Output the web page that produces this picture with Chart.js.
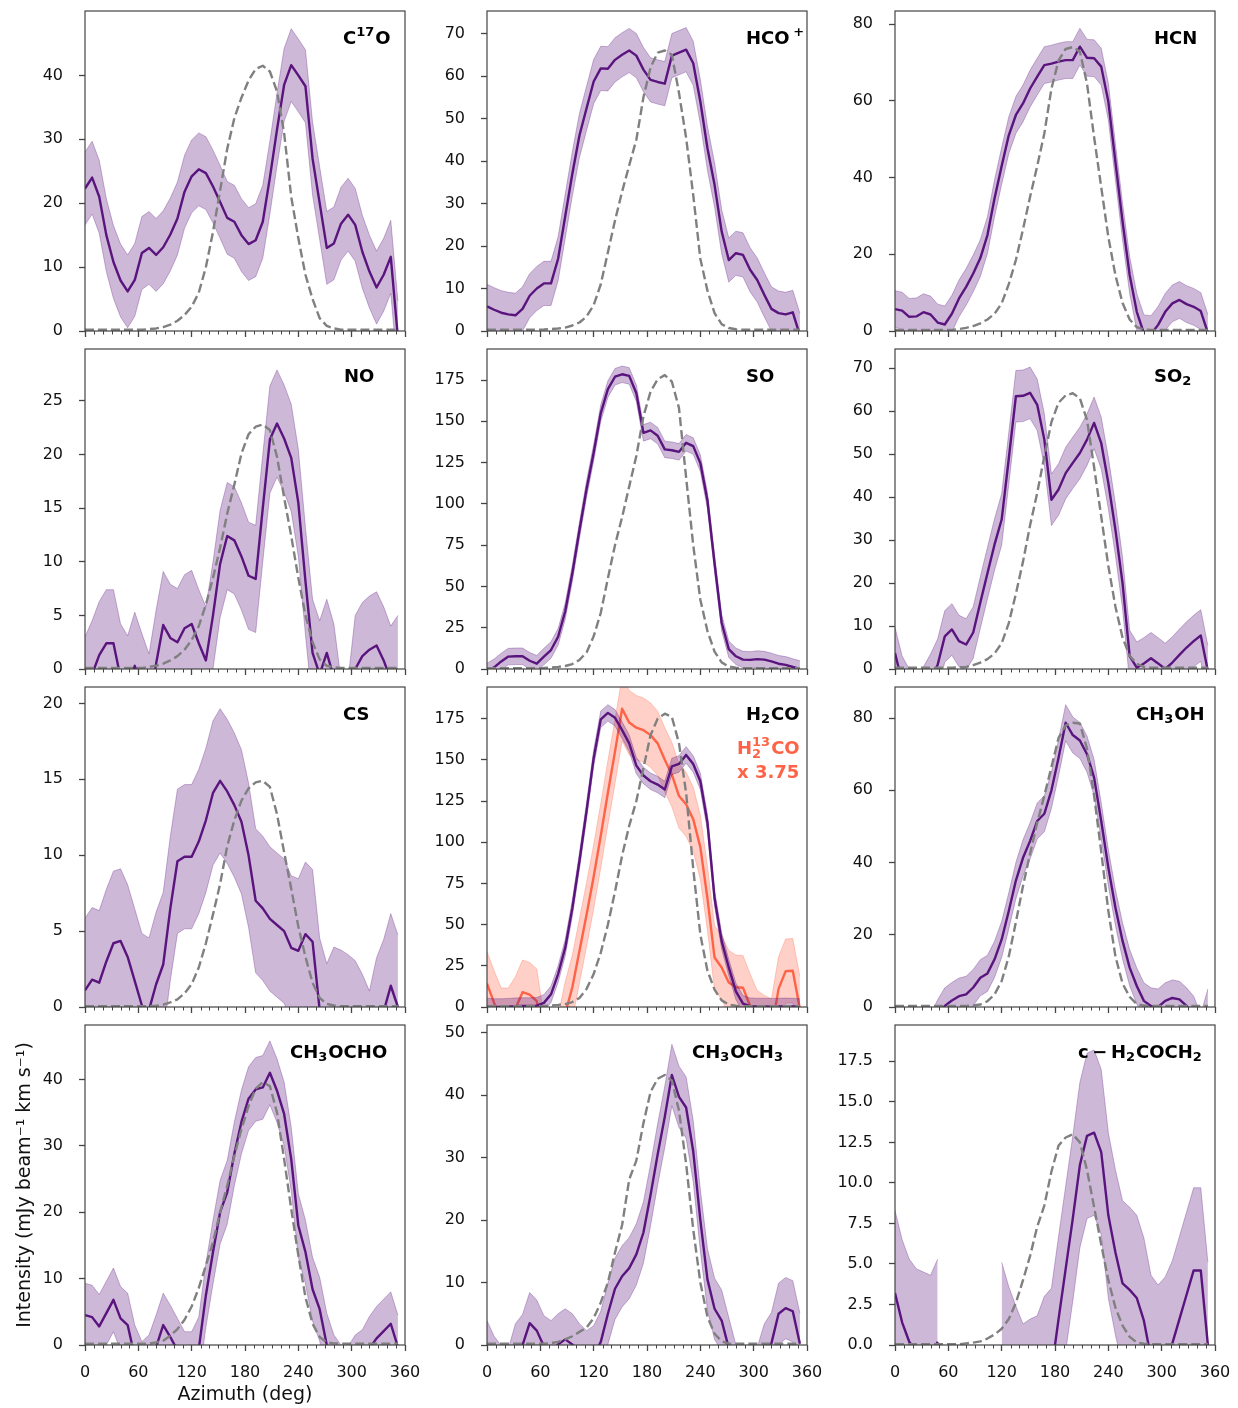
<!DOCTYPE html>
<html>
<head>
<meta charset="utf-8">
<script src="https://cdn.jsdelivr.net/npm/chart.js@4.4.1/dist/chart.umd.min.js"></script>
<style>
  body { margin: 0; background: #fff; }
  #page { position: relative; width: 1238px; height: 1408px; overflow: hidden; background: #fff; }
  #page canvas { position: absolute; }
</style>
</head>
<body>
<div id="page"></div>
<script>
// azimuth samples (deg)
var azimuth = [0, 8, 16, 24, 32, 40, 48, 56, 64, 72, 80, 88, 96, 104, 112, 120, 128, 136, 144, 152,
  160, 168, 176, 184, 192, 200, 208, 216, 224, 232, 240, 248, 256, 264, 272, 280, 288, 296, 304, 312,
  320, 328, 336, 344, 352];
var azimuthTicks = [0, 60, 120, 180, 240, 300, 360];
var azimuthMinor = [10, 20, 30, 40, 50, 70, 80, 90, 100, 110, 130, 140, 150, 160, 170, 190, 200, 210, 220, 230,
  250, 260, 270, 280, 290, 310, 320, 330, 340, 350];

// measured profiles (mean) and model (dashed)
var c17oMean = [22.3, 24.0, 21.0, 15.0, 10.8, 7.9, 6.2, 8.0, 12.2, 13.0, 11.9, 13.1, 15.1, 17.6, 21.8, 24.2, 25.3, 24.7, 22.6, 20.2,
  17.7, 17.1, 15.0, 13.6, 14.2, 17.1, 24.0, 31.5, 38.5, 41.6, 40.0, 38.3, 27.0, 20.0, 13.0, 13.7, 16.8, 18.2, 16.6, 12.4,
  9.3, 6.8, 8.8, 11.6, -1.0];
var c17oModel = [0.2, 0.2, 0.2, 0.2, 0.2, 0.2, 0.2, 0.2, 0.2, 0.3, 0.4, 0.6, 1.0, 1.6, 2.5, 3.8, 6.0, 10.0, 15.5, 22.0,
  28.5, 33.3, 36.5, 39.2, 41.0, 41.5, 40.6, 37.5, 31.0, 21.0, 14.5, 8.8, 5.0, 2.0, 0.8, 0.4, 0.2, 0.2, 0.2, 0.2,
  0.2, 0.2, 0.2, 0.2, 0.2];

var hcopMean = [5.8, 5.0, 4.3, 3.9, 3.7, 5.2, 8.3, 10.0, 11.2, 11.2, 17.0, 27.0, 37.0, 46.0, 52.4, 58.7, 61.8, 61.7, 63.8, 65.0,
  66.0, 64.8, 61.5, 59.1, 58.6, 58.2, 64.8, 65.5, 66.2, 63.0, 54.0, 43.0, 34.4, 23.4, 16.7, 18.3, 17.9, 14.4, 12.0, 8.5,
  5.2, 4.2, 3.9, 4.4, -1.0];
var hcopModel = [0.3, 0.3, 0.3, 0.3, 0.3, 0.3, 0.3, 0.3, 0.35, 0.45, 0.6, 0.8, 1.3, 2.0, 3.4, 6.1, 11.0, 18.5, 26.0, 32.8,
  39.0, 45.0, 55.0, 62.0, 65.5, 66.0, 65.0, 56.0, 45.5, 32.0, 17.0, 9.5, 4.2, 1.6, 0.7, 0.4, 0.3, 0.3, 0.3, 0.3,
  0.3, 0.3, 0.3, 0.3, 0.3];

var hcnMean = [5.7, 5.3, 3.7, 3.8, 4.9, 4.3, 2.2, 1.7, 4.5, 8.5, 11.5, 15.0, 19.0, 25.0, 34.6, 43.0, 51.0, 56.3, 59.3, 63.2,
  66.3, 69.3, 69.7, 70.2, 70.6, 70.6, 74.1, 71.2, 71.1, 68.9, 59.8, 44.0, 28.5, 14.6, 5.0, -0.6, -0.8, 1.6, 5.0, 7.2,
  8.1, 7.0, 6.3, 5.2, -0.5];
var hcnModel = [0.3, 0.3, 0.3, 0.3, 0.3, 0.3, 0.3, 0.3, 0.3, 0.5, 0.8, 1.3, 2.0, 3.0, 4.5, 7.2, 12.2, 18.5, 26.5, 35.0,
  43.0, 51.5, 63.2, 70.5, 73.5, 74.0, 72.8, 64.5, 50.5, 37.5, 24.5, 14.5, 7.3, 3.0, 1.0, 0.4, 0.3, 0.3, 0.3, 0.3,
  0.3, 0.3, 0.3, 0.3, 0.3];

var noMean = [-2.0, -0.5, 1.3, 2.4, 2.4, -0.8, -1.9, 0.3, -1.7, -3.6, 0.5, 4.1, 2.9, 2.5, 3.8, 4.2, 2.4, 0.8, 5.0, 9.8,
  12.4, 12.0, 10.5, 8.7, 8.4, 15.0, 21.4, 22.9, 21.5, 19.7, 15.5, 8.2, 1.5, -0.5, 1.5, -0.8, -6.0, -6.0, 0.0, 1.2,
  1.8, 2.2, 0.8, -1.0, 0.0];
var noModel = [0.1, 0.1, 0.1, 0.1, 0.1, 0.1, 0.1, 0.1, 0.1, 0.2, 0.3, 0.5, 0.8, 1.2, 1.8, 2.7, 4.0, 6.0, 8.5, 11.3,
  14.5, 17.2, 20.1, 21.9, 22.6, 22.8, 22.3, 19.8, 16.0, 12.4, 8.5, 5.0, 2.5, 0.9, 0.3, 0.15, 0.1, 0.1, 0.1, 0.1,
  0.1, 0.1, 0.1, 0.1, 0.1];

var soMean = [-1.5, 1.0, 4.6, 7.5, 7.7, 7.7, 5.0, 3.2, 7.5, 11.5, 19.5, 35.0, 58.0, 84.0, 109.0, 131.0, 155.0, 169.5, 177.0, 178.5,
  177.5, 167.0, 143.0, 144.5, 141.3, 133.0, 132.5, 131.5, 137.0, 135.0, 124.7, 102.0, 64.0, 28.0, 12.0, 7.7, 5.7, 5.5, 6.0, 5.7,
  4.6, 3.2, 2.5, 1.2, 0.0];
var soModel = [0.5, 0.5, 0.5, 0.5, 0.5, 0.5, 0.5, 0.5, 0.6, 0.9, 1.3, 1.8, 3.0, 5.5, 10.0, 19.8, 34.0, 55.0, 75.0, 92.0,
  110.6, 129.0, 153.0, 168.0, 175.5, 178.0, 174.0, 158.0, 116.0, 75.0, 42.0, 23.0, 10.5, 4.0, 1.5, 0.8, 0.5, 0.5, 0.5, 0.5,
  0.5, 0.5, 0.5, 0.5, 0.5];

var so2Mean = [3.7, -3.0, -6.0, -7.0, -5.5, -2.5, 1.0, 7.6, 9.2, 6.5, 5.7, 8.5, 15.5, 22.3, 29.0, 34.8, 49.0, 63.5, 63.6, 64.3,
  61.5, 53.4, 39.4, 41.8, 45.6, 48.0, 50.3, 53.4, 57.3, 52.6, 43.3, 32.4, 20.0, 3.0, 0.3, 1.3, 2.5, 1.3, 0.0, 1.5,
  3.3, 5.0, 6.5, 7.8, -0.5];
var so2Model = [0.3, 0.3, 0.3, 0.3, 0.3, 0.3, 0.3, 0.3, 0.3, 0.4, 0.5, 0.9, 1.5, 2.3, 3.6, 6.0, 10.7, 17.5, 25.0, 33.5,
  41.0, 49.5, 57.5, 62.0, 63.7, 64.2, 63.0, 58.0, 47.0, 35.5, 24.0, 14.5, 7.3, 3.1, 1.2, 0.5, 0.3, 0.3, 0.3, 0.3,
  0.3, 0.3, 0.3, 0.3, 0.3];

var csMean = [1.1, 1.8, 1.6, 3.0, 4.2, 4.35, 3.3, 1.7, 0.1, -0.2, 1.5, 2.8, 6.5, 9.6, 9.9, 9.9, 10.9, 12.3, 14.1, 14.9,
  14.2, 13.3, 12.2, 10.0, 7.0, 6.5, 5.8, 5.4, 5.0, 3.9, 3.7, 4.8, 4.3, -0.2, -1.9, -0.8, -1.0, -1.3, -1.7, -2.6,
  -3.7, -1.5, -0.3, 1.4, 0.0];
var csModel = [0.05, 0.05, 0.05, 0.05, 0.05, 0.05, 0.05, 0.05, 0.05, 0.05, 0.08, 0.15, 0.3, 0.5, 0.9, 1.5, 2.6, 4.2, 6.1, 8.1,
  10.6, 12.3, 13.6, 14.4, 14.8, 14.9, 14.5, 12.7, 10.2, 7.8, 5.3, 3.3, 1.6, 0.6, 0.2, 0.1, 0.05, 0.05, 0.05, 0.05,
  0.05, 0.05, 0.05, 0.05, 0.05];

var h2coMean = [0.3, 0.0, 0.0, 0.2, 0.5, 0.6, 0.6, 0.8, 2.5, 7.7, 20.0, 36.0, 60.0, 88.6, 119.0, 151.0, 174.6, 178.5, 175.5, 168.0,
  160.0, 146.5, 140.5, 137.0, 135.0, 132.0, 146.0, 147.5, 153.0, 147.5, 137.0, 112.0, 66.0, 40.0, 24.0, 9.5, 2.0, 0.5, 0.3, 0.3,
  0.2, 0.3, 0.4, 0.3, 0.0];
var h2coModel = [0.5, 0.5, 0.5, 0.5, 0.5, 0.5, 0.5, 0.5, 0.6, 0.9, 1.3, 1.8, 3.0, 5.5, 11.0, 20.0, 33.0, 50.0, 70.0, 92.0,
  110.0, 125.0, 145.0, 165.0, 175.0, 178.0, 176.0, 160.0, 130.0, 84.0, 44.0, 22.0, 10.5, 4.0, 1.5, 0.8, 0.5, 0.5, 0.5, 0.5,
  0.5, 0.5, 0.5, 0.5, 0.5];
// H2 13CO scaled by 3.75
var h213coMean = [14.2, 2.5, -8.0, -8.0, -1.0, 9.0, 7.5, 3.6, -25.0, -25.0, -25.0, -4.0, 12.0, 34.0, 56.0, 79.0, 104.0, 130.0, 155.0, 181.0,
  172.6, 169.5, 168.0, 165.0, 160.0, 150.0, 141.0, 128.0, 123.0, 114.0, 97.0, 66.0, 30.0, 24.0, 14.8, 12.0, 11.7, 0.6, -9.5, -12.5,
  -14.5, 11.0, 21.8, 22.0, -1.0];

var ch3ohMean = [-7.0, -7.0, -7.0, -7.0, -7.0, -7.0, -3.0, 0.3, 1.8, 3.0, 3.5, 5.4, 8.1, 9.3, 13.2, 18.7, 26.6, 35.0, 41.3, 46.0,
  51.5, 53.5, 60.0, 69.0, 78.7, 75.3, 73.8, 70.0, 63.5, 51.5, 38.6, 27.5, 18.3, 10.9, 5.8, 1.7, 0.3, 0.0, 1.7, 2.5,
  2.1, 0.3, -2.0, -7.0, 0.0];
var ch3ohModel = [0.3, 0.3, 0.3, 0.3, 0.3, 0.3, 0.3, 0.3, 0.3, 0.3, 0.3, 0.4, 0.7, 1.6, 3.5, 7.2, 14.0, 23.5, 33.5, 42.5,
  51.0, 58.5, 66.5, 74.5, 78.0, 78.7, 78.5, 71.5, 58.5, 43.0, 26.6, 14.0, 6.5, 2.8, 0.8, 0.4, 0.3, 0.3, 0.3, 0.3,
  0.3, 0.3, 0.3, 0.3, 0.3];

var ch3ochoMean = [4.5, 4.2, 2.8, 4.8, 6.8, 4.0, 3.0, -1.8, -4.3, -3.3, -0.3, 3.0, 1.2, -0.8, -2.8, -2.8, -0.6, 7.5, 14.0, 20.0,
  23.0, 28.8, 33.6, 37.1, 38.5, 38.8, 41.0, 38.3, 34.8, 28.0, 18.0, 14.0, 8.4, 5.4, 0.0, -3.3, -4.8, -5.0, -3.3, -2.5,
  -0.5, 1.0, 2.1, 3.2, -0.3];
var ch3ochoModel = [0.2, 0.2, 0.2, 0.2, 0.2, 0.2, 0.2, 0.2, 0.2, 0.2, 0.4, 0.65, 1.4, 2.4, 3.8, 5.8, 8.6, 12.0, 15.5, 20.0,
  24.0, 28.5, 32.5, 36.0, 38.6, 39.6, 39.0, 35.0, 28.0, 20.5, 13.5, 7.2, 3.2, 1.2, 0.4, 0.25, 0.2, 0.2, 0.2, 0.2,
  0.2, 0.2, 0.2, 0.2, 0.2];

var ch3och3Mean = [-1.0, -3.5, -5.0, -5.5, -1.5, 0.0, 3.5, 2.3, -0.2, -1.0, 0.1, 0.9, 0.1, -1.5, -2.6, -1.8, 0.5, 5.0, 9.0, 11.0,
  12.3, 14.5, 18.0, 24.0, 30.5, 36.5, 43.2, 39.7, 38.0, 31.0, 20.0, 10.5, 5.8, 3.9, -0.5, -4.9, -5.5, -6.0, -5.3, -1.5,
  0.3, 5.0, 5.9, 5.4, 0.2];
var ch3och3Model = [0.2, 0.2, 0.2, 0.2, 0.2, 0.2, 0.2, 0.2, 0.2, 0.3, 0.5, 0.9, 1.4, 2.1, 2.8, 4.3, 6.8, 10.0, 14.8, 19.2,
  26.5, 29.5, 35.5, 40.5, 42.6, 43.2, 42.3, 37.5, 29.0, 18.5, 10.0, 4.5, 1.8, 0.6, 0.2, 0.2, 0.2, 0.2, 0.2, 0.2,
  0.2, 0.2, 0.2, 0.2, 0.2];

var cH2coch2Mean = [3.2, 1.4, 0.2, -0.4, -0.6, -0.8, 0.2, null, null, null, null, null, null, null, null, 0.0, -1.5, -2.7, -3.8, -3.5,
  -3.3, -2.1, -1.6, 1.6, 4.7, 7.8, 11.1, 12.9, 13.1, 11.9, 8.0, 5.7, 3.8, 3.4, 2.9, 1.5, -0.8, -1.4, -0.9, 0.1,
  1.6, 3.1, 4.6, 4.6, 0.0];
var cH2coch2Model = [0.05, 0.05, 0.05, 0.05, 0.05, 0.05, 0.05, 0.05, 0.05, 0.05, 0.1, 0.15, 0.22, 0.4, 0.65, 1.0, 1.6, 2.6, 4.0, 5.5,
  7.3, 8.6, 10.7, 12.3, 12.8, 13.0, 12.5, 10.8, 8.5, 6.2, 4.0, 2.3, 1.2, 0.5, 0.16, 0.08, 0.05, 0.05, 0.05, 0.05,
  0.05, 0.05, 0.05, 0.05, 0.05];

// 1-sigma half widths of the shaded bands, panel order
var bandHalfWidth = [5.7, 5.2, 4.8, 5.0, 5.0, 6.0, 4.75, 5.0, 5.0, 4.8, 4.9, 5.1];
var h213coHalfWidth = 19.5;

// y axis tops and tick labels, panel order
var yMax = [50.07, 75.3, 83.4, 29.85, 193.8, 74.5, 21.08, 194.2, 88.6, 48.2, 51.2, 19.74];
var yTickValues = [
  [0, 10, 20, 30, 40], [0, 10, 20, 30, 40, 50, 60, 70], [0, 20, 40, 60, 80],
  [0, 5, 10, 15, 20, 25], [0, 25, 50, 75, 100, 125, 150, 175], [0, 10, 20, 30, 40, 50, 60, 70],
  [0, 5, 10, 15, 20], [0, 25, 50, 75, 100, 125, 150, 175], [0, 20, 40, 60, 80],
  [0, 10, 20, 30, 40], [0, 10, 20, 30, 40, 50], [0, 2.5, 5, 7.5, 10, 12.5, 15, 17.5]
];

var speciesNames = ['C^{17}O', 'HCO\u2009^{+}', 'HCN', 'NO', 'SO', 'SO_{2}', 'CS', 'H_{2}CO',
  'CH_{3}OH', 'CH_{3}OCHO', 'CH_{3}OCH_{3}', 'c\u2009\u2212\u2009H_{2}COCH_{2}'];

var panels = [
  {mean: c17oMean, model: c17oModel, labelX: 258},
  {mean: hcopMean, model: hcopModel, labelX: 259},
  {mean: hcnMean, model: hcnModel, labelX: 259},
  {mean: noMean, model: noModel, labelX: 259},
  {mean: soMean, model: soModel, labelX: 259},
  {mean: so2Mean, model: so2Model, labelX: 259},
  {mean: csMean, model: csModel, labelX: 258},
  {mean: h2coMean, model: h2coModel, labelX: 259, extra: h213coMean},
  {mean: ch3ohMean, model: ch3ohModel, labelX: 241},
  {mean: ch3ochoMean, model: ch3ochoModel, labelX: 205},
  {mean: ch3och3Mean, model: ch3och3Model, labelX: 205},
  {mean: cH2coch2Mean, model: cH2coch2Model, labelX: 183}
];

var PURPLE = 'rgb(90,20,125)', PURPLE_FILL = 'rgba(90,20,125,0.3)';
var RED = 'rgb(255,99,71)', RED_FILL = 'rgba(255,99,71,0.3)';
var GREY = 'rgb(128,128,128)';
var FONT = '"DejaVu Sans", sans-serif';

var PLOT_LEFT = [85, 487, 895], PLOT_TOP = [11, 349, 687, 1025], PLOT = 320;
var YW = 85, PT = 30, PR = 34, XH = 62;

Chart.defaults.font.family = FONT;

function pts(values) {
  return azimuth.map(function (a, k) { return {x: a, y: values[k]}; });
}
function shift(values, d) {
  return values.map(function (v) { return v === null ? null : v + d; });
}
function line(values, color, width, dash) {
  return {data: pts(values), borderColor: color, borderWidth: width, borderDash: dash || [],
    borderJoinStyle: 'round', pointRadius: 0, fill: false};
}
function band(values, color, fill) {
  return {data: pts(values), borderColor: color, borderWidth: 1, backgroundColor: color,
    pointRadius: 0, fill: fill};
}

// bold label with _{sub} / ^{sup}; a sup right after a sub is stacked on it
function parseRich(str) {
  var parts = [], i = 0;
  while (i < str.length) {
    var c = str[i];
    if ((c === '_' || c === '^') && str[i + 1] === '{') {
      var end = str.indexOf('}', i);
      var txt = str.slice(i + 2, end);
      var prev = parts[parts.length - 1];
      if (c === '^' && prev && prev.kind === 'sub' && prev.sup === undefined) prev.sup = txt;
      else parts.push({kind: c === '_' ? 'sub' : 'sup', text: txt});
      i = end + 1;
    } else {
      var last = parts[parts.length - 1];
      if (last && last.kind === 'n') last.text += c; else parts.push({kind: 'n', text: c});
      i++;
    }
  }
  return parts;
}
function drawRich(ctx, str, x, y, size, color) {
  var big = 'bold ' + size + 'px ' + FONT, small = 'bold ' + Math.round(size * 0.7) + 'px ' + FONT;
  ctx.fillStyle = color;
  ctx.textAlign = 'left';
  ctx.textBaseline = 'alphabetic';
  parseRich(str).forEach(function (p) {
    if (p.kind === 'n') {
      ctx.font = big;
      ctx.fillText(p.text, x, y);
      x += ctx.measureText(p.text).width;
      return;
    }
    ctx.font = small;
    var w;
    if (p.kind === 'sub') {
      ctx.fillText(p.text, x, y + size * 0.22);
      w = ctx.measureText(p.text).width;
      if (p.sup) {
        ctx.fillText(p.sup, x, y - size * 0.42);
        w = Math.max(w, ctx.measureText(p.sup).width);
      }
    } else {
      ctx.fillText(p.text, x, y - size * 0.42);
      w = ctx.measureText(p.text).width;
    }
    x += w + 1;
  });
}

var framePlugin = {
  id: 'frame',
  afterDatasetsDraw: function (chart) {
    var a = chart.chartArea, ctx = chart.ctx, xs = chart.scales.x;
    ctx.save();
    ctx.strokeStyle = '#444';
    ctx.lineWidth = 1.2;
    ctx.strokeRect(a.left, a.top, a.right - a.left, a.bottom - a.top);
    ctx.lineWidth = 1;
    azimuthMinor.forEach(function (v) {
      var x = Math.round(xs.getPixelForValue(v)) + 0.5;
      ctx.beginPath();
      ctx.moveTo(x, a.bottom);
      ctx.lineTo(x, a.bottom + 3.5);
      ctx.stroke();
    });
    ctx.restore();
  }
};

var labelPlugin = {
  id: 'speciesLabel',
  afterDraw: function (chart, args, opts) {
    var a = chart.chartArea, ctx = chart.ctx;
    ctx.save();
    for (var k = 0; k < opts.lines.length; k++) {
      var ln = opts.lines[k];
      drawRich(ctx, ln.text, a.left + ln.dx, a.top + ln.dy, 18, ln.color);
    }
    ctx.restore();
  }
};

var page = document.getElementById('page');

panels.forEach(function (p, i) {
  var row = Math.floor(i / 3), col = i % 3;
  var bottomRow = row === 3, corner = i === 9;
  var canvas = document.createElement('canvas');
  var cw = YW + PLOT + PR, ch = PT + PLOT + XH;
  canvas.width = cw;
  canvas.height = ch;
  canvas.style.width = cw + 'px';
  canvas.style.height = ch + 'px';
  canvas.style.left = (PLOT_LEFT[col] - YW) + 'px';
  canvas.style.top = (PLOT_TOP[row] - PT) + 'px';
  page.appendChild(canvas);

  var noise = bandHalfWidth[i];
  var datasets = [
    line(p.model, GREY, 2.4, [9, 4]),
    line(p.mean, PURPLE, 2.4),
    band(shift(p.mean, noise), PURPLE_FILL, '+1'),
    band(shift(p.mean, -noise), PURPLE_FILL, false)
  ];
  var lines = [{text: speciesNames[i], dx: p.labelX, dy: 32.5, color: '#000'}];
  if (p.extra) {
    datasets.push(line(p.extra, RED, 2.4));
    datasets.push(band(shift(p.extra, h213coHalfWidth), RED_FILL, '+1'));
    datasets.push(band(shift(p.extra, -h213coHalfWidth), RED_FILL, false));
    lines.push({text: 'H_{2}^{13}CO', dx: 250, dy: 67, color: RED});
    lines.push({text: 'x 3.75', dx: 250, dy: 91, color: RED});
  }
  var ticks = yTickValues[i];
  var decimals = i === 11 ? 1 : 0;

  var chart = new Chart(canvas, {
    type: 'line',
    data: {datasets: datasets},
    options: {
      responsive: false,
      animation: false,
      devicePixelRatio: 1,
      events: [],
      layout: {padding: {left: 0, top: PT, right: PR, bottom: 0}},
      plugins: {
        legend: {display: false},
        tooltip: {enabled: false},
        speciesLabel: {lines: lines}
      },
      scales: {
        x: {
          type: 'linear', min: 0, max: 360,
          afterBuildTicks: function (s) { s.ticks = azimuthTicks.map(function (v) { return {value: v}; }); },
          afterFit: function (s) { s.height = XH; },
          grid: {drawOnChartArea: false, drawTicks: true, tickLength: 6, tickWidth: 1.3, tickColor: '#444'},
          border: {display: false},
          ticks: {
            autoSkip: false, maxRotation: 0, padding: 12, color: '#111',
            font: {family: FONT, size: 16},
            callback: function (v) { return bottomRow ? String(v) : ''; }
          },
          title: {display: corner, text: 'Azimuth (deg)', color: '#111',
            font: {family: FONT, size: 19}, padding: {top: 0, bottom: 0.6}}
        },
        y: {
          type: 'linear', min: 0, max: yMax[i],
          afterBuildTicks: function (s) { s.ticks = ticks.map(function (v) { return {value: v}; }); },
          afterFit: function (s) { s.width = YW; },
          grid: {drawOnChartArea: false, drawTicks: true, tickLength: 6, tickWidth: 1.3, tickColor: '#444'},
          border: {display: false},
          ticks: {
            padding: 16, color: '#111',
            font: {family: FONT, size: 16},
            callback: function (v) { return Number(v).toFixed(decimals); }
          },
          title: {display: corner, text: 'Intensity (mJy beam\u207b\u00b9 km s\u207b\u00b9)', color: '#111',
            font: {family: FONT, size: 19}, padding: {top: 13.6, bottom: 0}}
        }
      }
    },
    plugins: [framePlugin, labelPlugin]
  });

  // pin the plot area to its place on the page
  var a = chart.chartArea;
  canvas.style.left = (PLOT_LEFT[col] - a.left) + 'px';
  canvas.style.top = (PLOT_TOP[row] - a.top) + 'px';
});
</script>
</body>
</html>
